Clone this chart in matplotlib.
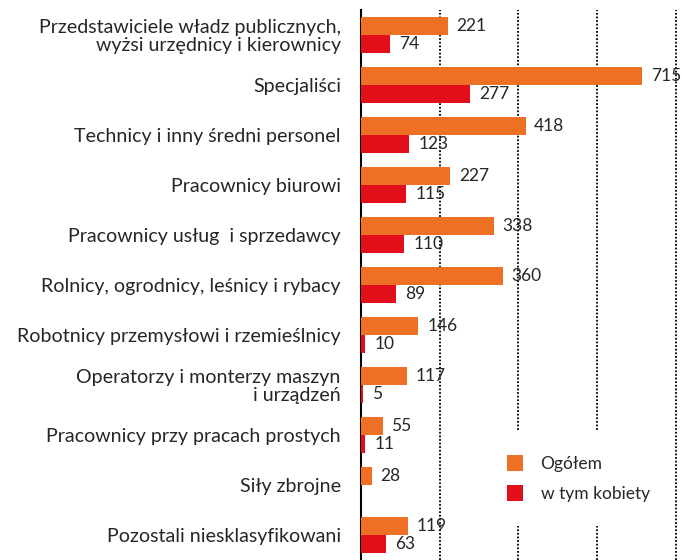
import numpy as np
import matplotlib
matplotlib.use("Agg")
from matplotlib import pyplot as plt

categories = [
    "Przedstawiciele władz publicznych,\nwyżsi urzędnicy i kierownicy",
    "Specjaliści",
    "Technicy i inny średni personel",
    "Pracownicy biurowi",
    "Pracownicy usług  i sprzedawcy",
    "Rolnicy, ogrodnicy, leśnicy i rybacy",
    "Robotnicy przemysłowi i rzemieślnicy",
    "Operatorzy i monterzy maszyn\ni urządzeń",
    "Pracownicy przy pracach prostych",
    "Siły zbrojne",
    "Pozostali niesklasyfikowani",
]
ogolem = [221, 715, 418, 227, 338, 360, 146, 117, 55, 28, 119]
kobiety = [74, 277, 123, 115, 110, 89, 10, 5, 11, None, 63]

orange = "#EE7024"
red = "#E20E1A"
txt = "#262626"

plt.rcParams['font.family'] = ['Lato', 'DejaVu Sans']

fig = plt.figure(figsize=(6.83, 5.6), dpi=100)
ax = fig.add_axes([361 / 683, 0, 1 - 361 / 683, 1 - 10 / 560])

n = len(categories)
y = np.arange(n) + 0.5
h = 0.36

ax.barh(y - h / 2, ogolem, height=h, color=orange, label="Ogółem", zorder=3)
kv = [v if v is not None else 0 for v in kobiety]
ax.barh(y + h / 2, kv, height=h, color=red, label="w tym kobiety", zorder=3)

for yi, v in zip(y, ogolem):
    ax.text(v + 22, yi - h / 2, str(v), va="center", ha="left", fontsize=12.5, color=txt)
for yi, v in zip(y, kobiety):
    if v is None:
        continue
    ax.text(v + 24, yi + h / 2, str(v), va="center", ha="left", fontsize=12.5, color=txt)

ax.set_xlim(0, 818)
ax.set_ylim(n, 0)
ax.set_yticks(y)
ax.set_yticklabels(categories, fontsize=14.1, color=txt, linespacing=1.0)
ax.tick_params(axis="y", length=0, pad=14.5)
ax.set_xticks([200, 400, 600, 800])
ax.tick_params(axis="x", length=0, labelbottom=False)
ax.grid(axis="x", color="black", linestyle=(0, (1, 1)), linewidth=1.3, zorder=0)
for s in ["top", "right", "bottom"]:
    ax.spines[s].set_visible(False)
ax.spines["left"].set_linewidth(1.5)
ax.spines["left"].set_color("black")

leg = ax.legend(loc="upper left", bbox_to_anchor=(0.35, 0.25), frameon=True,
                fontsize=12.5, handlelength=0.95, handleheight=1.0,
                handletextpad=1.0, labelspacing=0.75, borderpad=1.4,
                framealpha=1, facecolor="white", edgecolor="white", fancybox=False)
leg.get_frame().set_linewidth(0)
for t in leg.get_texts():
    t.set_color(txt)

fig.savefig("out.png", dpi=100)
